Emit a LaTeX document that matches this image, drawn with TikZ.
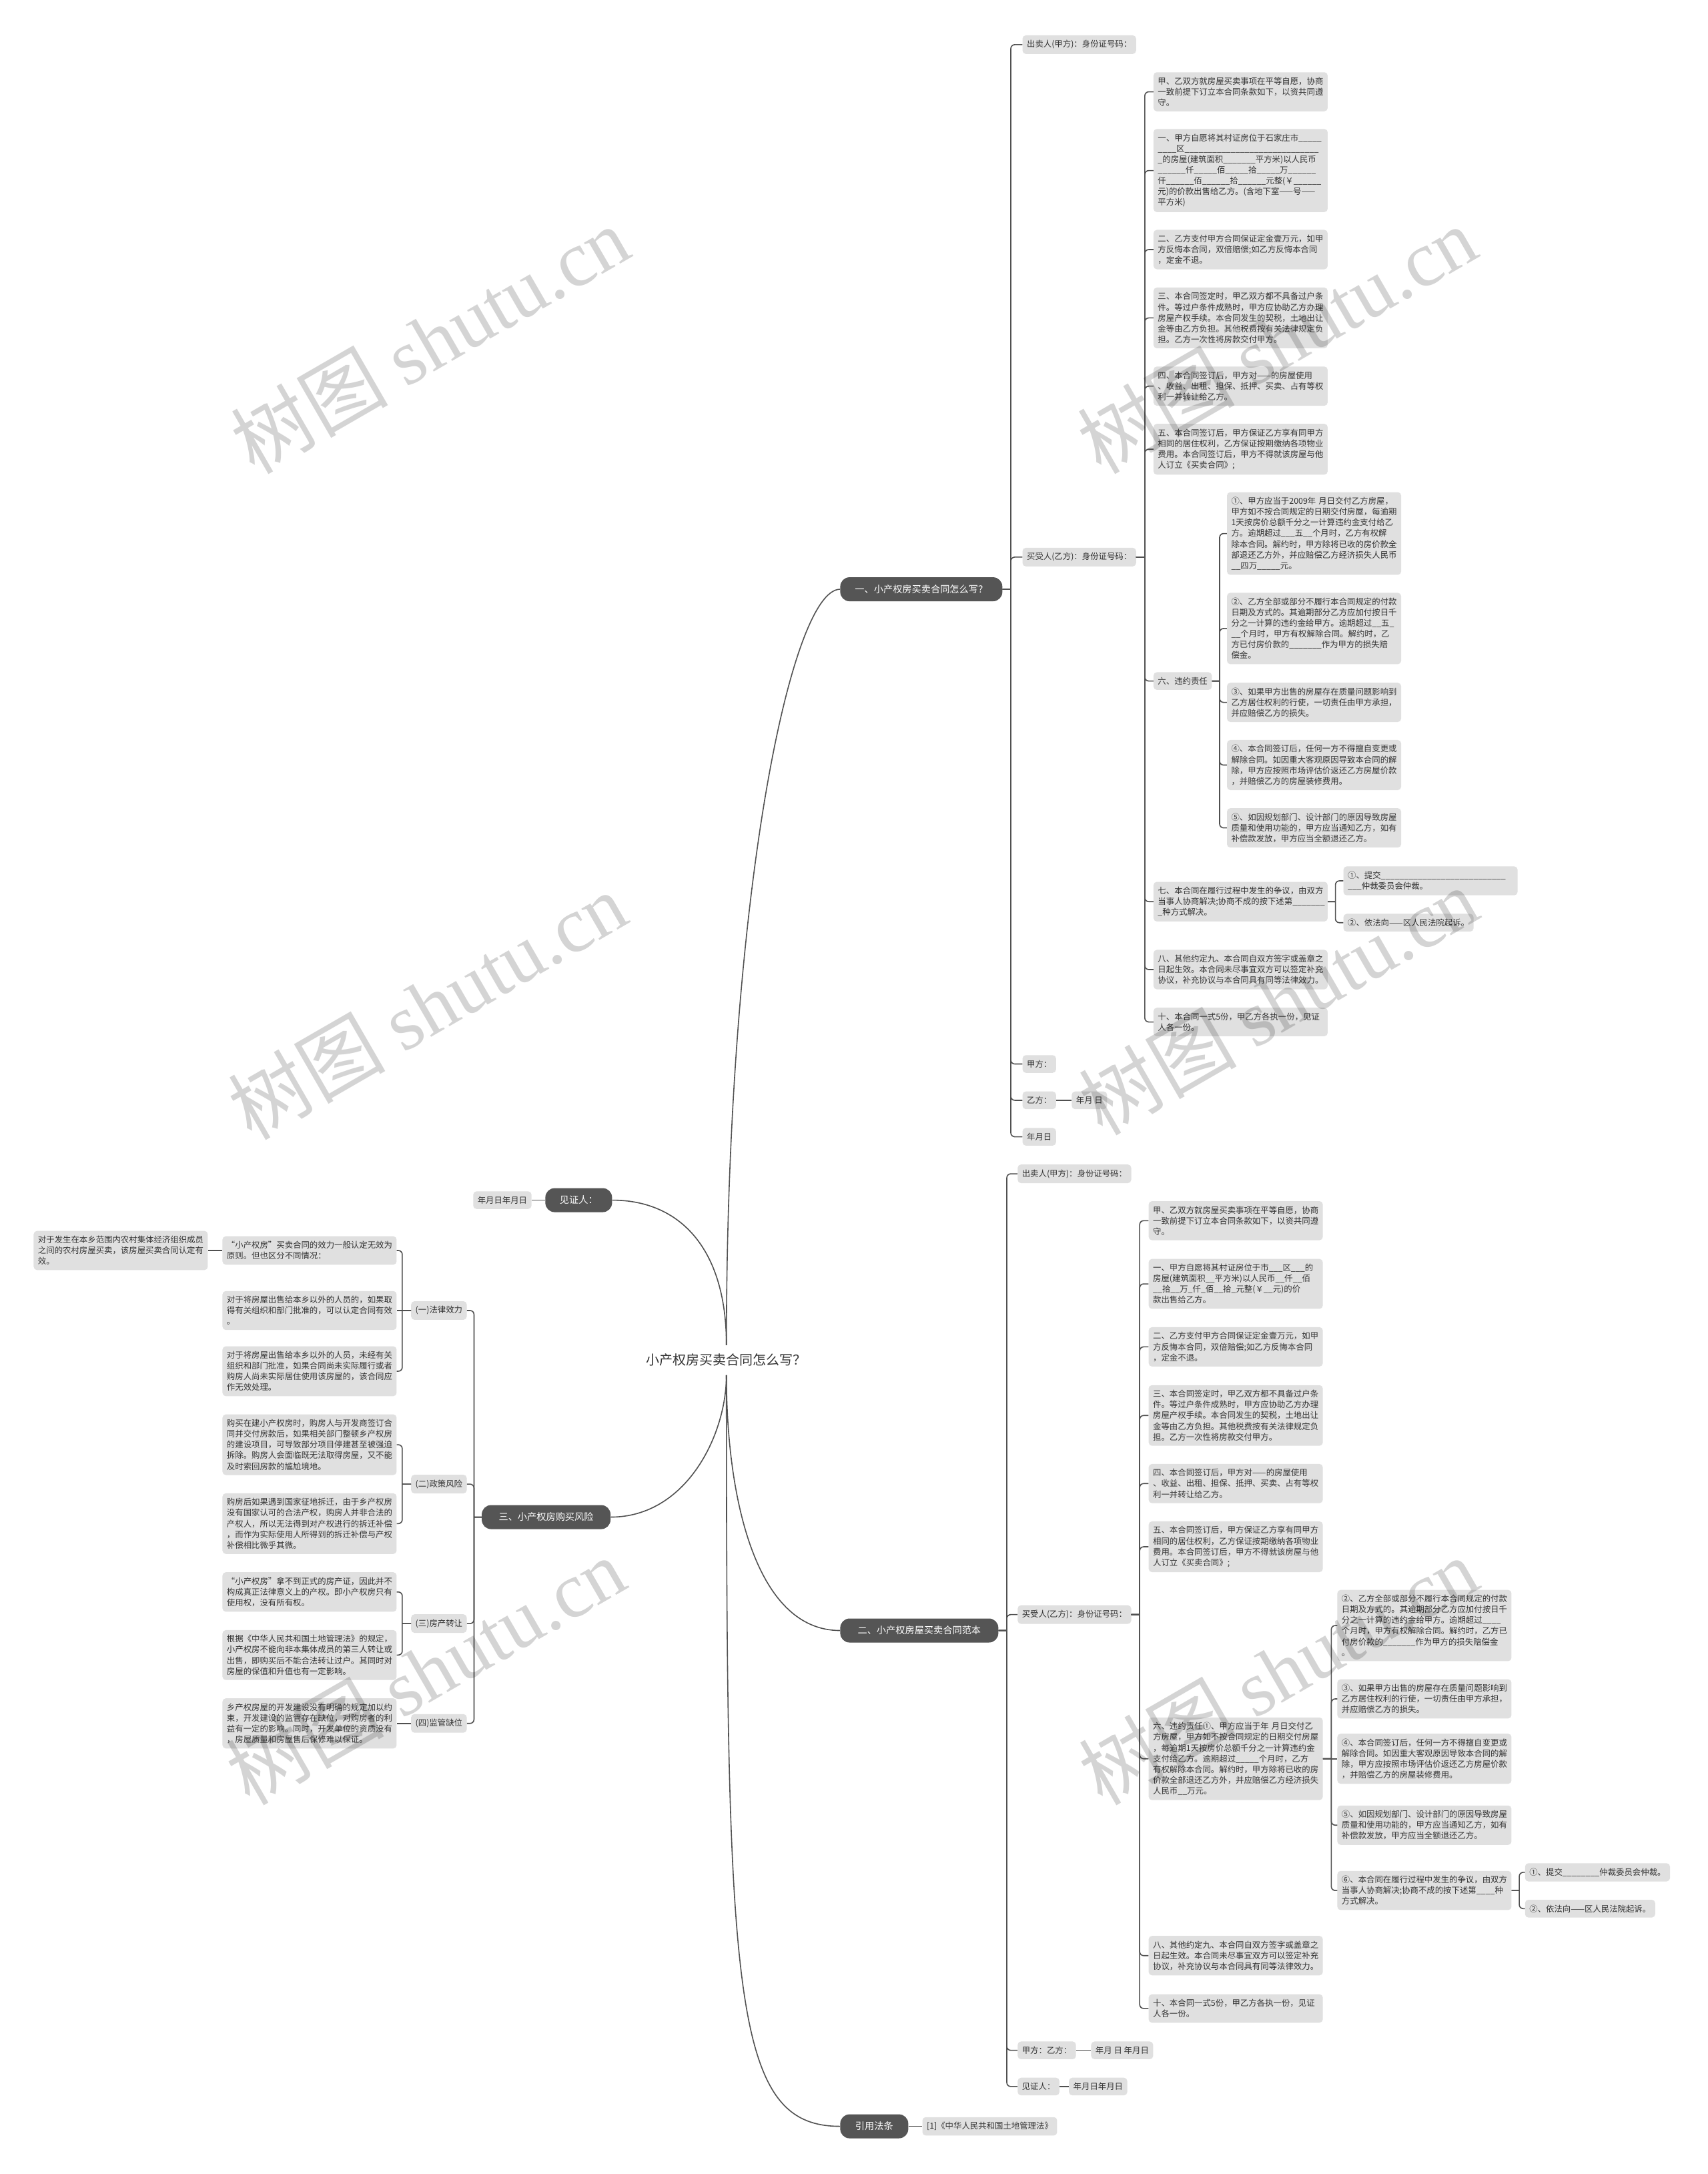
\documentclass[tikz,border=0pt]{standalone}
\usepackage{fontspec}
\setmainfont{Noto Sans CJK SC}
\newfontfamily\wmserif{Liberation Serif}
\setlength{\parindent}{0pt}
\definecolor{boxc}{HTML}{E0E0E0}
\definecolor{pillc}{HTML}{555555}
\definecolor{linec}{HTML}{505050}
\definecolor{txt}{HTML}{333333}
\newcommand\leaffont{\fontsize{12.4pt}{16.1pt}\selectfont}
\newcommand\pillfont{\fontsize{14.2pt}{17pt}\selectfont}
\newcommand\titlefont{\fontsize{20pt}{24pt}\selectfont}
\newcommand\wmfont{\fontsize{118pt}{118pt}\selectfont}
\newcommand\ufive{\_\_\_\_\_}
\begin{document}
\begin{tikzpicture}[x=2.0779pt,y=-2.0779pt,
  box/.style={fill=boxc, rounded corners=5pt, inner xsep=6.5pt, inner ysep=7.5pt, font=\leaffont, text=txt, align=left},
  para/.style={box, text width=248pt},
  pill/.style={fill=pillc, rounded corners=14pt, text=white, font=\pillfont, minimum height=36pt, inner xsep=4pt, align=center},
  con/.style={draw=linec, line width=1.6pt, rounded corners=6pt},
  br/.style={to path={(\tikztostart.east) -- ++(#1,0) ++(0,0) |- (\tikztotarget.west)}}, br/.default=6,
  bl/.style={to path={(\tikztostart.west) -- ++(-#1,0) ++(0,0) |- (\tikztotarget.east)}}, bl/.default=6,
  wm/.style={rotate=30, text=black, text opacity=0.17, font=\wmfont, inner sep=0pt}
]
\fill[white] (0,0) rectangle (1232,1568);
\useasboundingbox (0,0) rectangle (1232,1568);

% ---------- centre and main branches ----------
\node[font=\titlefont, text=txt, inner ysep=13pt] (C) at (524,981) {小产权房买卖合同怎么写？};
\node[pill, minimum width=243pt, anchor=west] (n1) at (606,425) {一、小产权房买卖合同怎么写？};
\node[pill, minimum width=237pt, anchor=west] (n2) at (606,1176) {二、小产权房屋买卖合同范本};
\node[pill, minimum width=193pt, anchor=east] (n3) at (440.5,1094.2) {三、小产权房购买风险};
\node[pill, minimum width=100pt, anchor=east] (n4) at (441.6,865.6) {见证人：};
\node[pill, minimum width=102pt, anchor=west] (n5) at (606,1533.6) {引用法条};

\draw[con] (C.north) .. controls (524,650) and (570,425) .. (n1.west);
\draw[con] (C.north) .. controls (524,900) and (490,865.6) .. (n4.east);
\draw[con] (C.south) .. controls (524,1035) and (495,1094.2) .. (n3.east);
\draw[con] (C.south) .. controls (524,1080) and (545,1176) .. (n2.west);
\draw[con] (C.south) .. controls (524,1440) and (528,1533.6) .. (n5.west);

% ---------- branch 一 ----------
\node[box, anchor=west] (A1) at (737.5,32.2) {出卖人(甲方)：身份证号码：};
\node[box, anchor=west] (A2) at (737.5,401.8) {买受人(乙方)：身份证号码：};
\node[box, anchor=west] (A3) at (737.5,767.4) {甲方：};
\node[box, anchor=west] (A4) at (737.5,793.6) {乙方：};
\node[box, anchor=west] (A4a) at (773,793.6) {年月~日};
\node[box, anchor=west] (A5) at (737.5,819.9) {年月日};

\node[para, anchor=west] (a1) at (832,66.2) {甲、乙双方就房屋买卖事项在平等自愿，协商\\一致前提下订立本合同条款如下，以资共同遵\\守。};
\node[para, anchor=west] (a2) at (832,123) {一、甲方自愿将其村证房位于石家庄市\ufive{}\\\_\_\_\_区\ufive{}\ufive{}\ufive{}\ufive{}\ufive{}\_\_\_\_\\\_的房屋(建筑面积\_\_\_\_\_\_\_平方米)以人民币\\\ufive{}\_仟\ufive{}佰\ufive{}拾\ufive{}万\ufive{}\_\\仟\ufive{}\_佰\ufive{}\_拾\ufive{}\_元整(￥\ufive{}\_\\元)的价款出售给乙方。(含地下室——号——\\平方米)};
\node[para, anchor=west] (a3) at (832,180) {二、乙方支付甲方合同保证定金壹万元，如甲\\方反悔本合同，双倍赔偿;如乙方反悔本合同\\，定金不退。};
\node[para, anchor=west] (a4) at (832,229.3) {三、本合同签定时，甲乙双方都不具备过户条\\件。等过户条件成熟时，甲方应协助乙方办理\\房屋产权手续。本合同发生的契税，土地出让\\金等由乙方负担。其他税费按有关法律规定负\\担。乙方一次性将房款交付甲方。};
\node[para, anchor=west] (a5) at (832,278.5) {四、本合同签订后，甲方对——的房屋使用\\、收益、出租、担保、抵押、买卖、占有等权\\利一并转让给乙方。};
\node[para, anchor=west] (a6) at (832,324) {五、本合同签订后，甲方保证乙方享有同甲方\\相同的居住权利，乙方保证按期缴纳各项物业\\费用。本合同签订后，甲方不得就该房屋与他\\人订立《买卖合同》;};
\node[box, anchor=west] (a7) at (832,491.2) {六、违约责任};
\node[para, anchor=west] (b1) at (885,384.8) {①、甲方应当于2009年~月日交付乙方房屋，\\甲方如不按合同规定的日期交付房屋，每逾期\\1天按房价总额千分之一计算违约金支付给乙\\方。逾期超过\_\_\_五\_\_个月时，乙方有权解\\除本合同。解约时，甲方除将已收的房价款全\\部退还乙方外，并应赔偿乙方经济损失人民币\\\_\_四万\_\_\_\_\_元。};
\node[para, anchor=west] (b2) at (885,453.3) {②、乙方全部或部分不履行本合同规定的付款\\日期及方式的。其逾期部分乙方应加付按日千\\分之一计算的违约金给甲方。逾期超过\_\_五\_\\\_\_个月时，甲方有权解除合同。解约时，乙\\方已付房价款的\_\_\_\_\_\_\_作为甲方的损失赔\\偿金。};
\node[para, anchor=west] (b3) at (885,506.6) {③、如果甲方出售的房屋存在质量问题影响到\\乙方居住权利的行使，一切责任由甲方承担，\\并应赔偿乙方的损失。};
\node[para, anchor=west] (b4) at (885,551.8) {④、本合同签订后，任何一方不得擅自变更或\\解除合同。如因重大客观原因导致本合同的解\\除，甲方应按照市场评估价返还乙方房屋价款\\，并赔偿乙方的房屋装修费用。};
\node[para, anchor=west] (b5) at (885,597.1) {⑤、如因规划部门、设计部门的原因导致房屋\\质量和使用功能的，甲方应当通知乙方，如有\\补偿款发放，甲方应当全额退还乙方。};
\node[para, anchor=west] (a8) at (832,650.3) {七、本合同在履行过程中发生的争议，由双方\\当事人协商解决;协商不成的按下述第\_\_\_\_\_\_\_\\\_种方式解决。};
\node[para, anchor=west] (c1) at (969,635.3) {①、提交\ufive{}\ufive{}\ufive{}\ufive{}\ufive{}\_\_\\\_\_\_仲裁委员会仲裁。};
\node[box, anchor=west] (c2) at (969,665.5) {②、依法向——区人民法院起诉。};
\node[para, anchor=west] (a9) at (832,699.3) {八、其他约定九、本合同自双方签字或盖章之\\日起生效。本合同未尽事宜双方可以签定补充\\协议，补充协议与本合同具有同等法律效力。};
\node[para, anchor=west] (a10) at (832,737.1) {十、本合同一式5份，甲乙方各执一份，见证\\人各一份。};

\draw[con] (n1) to[br] (A1);
\draw[con] (n1) to[br] (A2);
\draw[con] (n1) to[br] (A3);
\draw[con] (n1) to[br] (A4);
\draw[con] (n1) to[br] (A5);
\draw[con] (A4) -- (A4a);
\foreach \k in {a1,a2,a3,a4,a5,a6,a7,a8,a9,a10} \draw[con] (A2) to[br=6.2] (\k);
\foreach \k in {b1,b2,b3,b4,b5} \draw[con] (a7) to[br=5.5] (\k);
\foreach \k in {c1,c2} \draw[con] (a8) to[br=5.5] (\k);

% ---------- branch 二 ----------
\node[box, anchor=west] (B1) at (734,846.6) {出卖人(甲方)：身份证号码：};
\node[box, anchor=west] (B2) at (734,1164.5) {买受人(乙方)：身份证号码：};
\node[box, anchor=west] (B3) at (734,1478.8) {甲方：乙方：};
\node[box, anchor=west] (B3a) at (787,1478.8) {年月~日~年月日};
\node[box, anchor=west] (B4) at (734,1504.9) {见证人：};
\node[box, anchor=west] (B4a) at (771,1504.9) {年月日年月日};

\node[para, anchor=west] (d1) at (828.5,880.4) {甲、乙双方就房屋买卖事项在平等自愿，协商\\一致前提下订立本合同条款如下，以资共同遵\\守。};
\node[para, anchor=west] (d2) at (828.5,926) {一、甲方自愿将其村证房位于市\_\_\_区\_\_\_的\\房屋(建筑面积\_\_平方米)以人民币\_\_仟\_\_佰\\\_\_拾\_\_万\_仟\_佰\_\_拾\_元整(￥\_\_元)的价\\款出售给乙方。};
\node[para, anchor=west] (d3) at (828.5,971.4) {二、乙方支付甲方合同保证定金壹万元，如甲\\方反悔本合同，双倍赔偿;如乙方反悔本合同\\，定金不退。};
\node[para, anchor=west] (d4) at (828.5,1020.9) {三、本合同签定时，甲乙双方都不具备过户条\\件。等过户条件成熟时，甲方应协助乙方办理\\房屋产权手续。本合同发生的契税，土地出让\\金等由乙方负担。其他税费按有关法律规定负\\担。乙方一次性将房款交付甲方。};
\node[para, anchor=west] (d5) at (828.5,1070) {四、本合同签订后，甲方对——的房屋使用\\、收益、出租、担保、抵押、买卖、占有等权\\利一并转让给乙方。};
\node[para, anchor=west] (d6) at (828.5,1115.6) {五、本合同签订后，甲方保证乙方享有同甲方\\相同的居住权利，乙方保证按期缴纳各项物业\\费用。本合同签订后，甲方不得就该房屋与他\\人订立《买卖合同》;};
\node[para, anchor=west] (d7) at (828.5,1268.5) {六、违约责任①、甲方应当于年~月日交付乙\\方房屋，甲方如不按合同规定的日期交付房屋\\，每逾期1天按房价总额千分之一计算违约金\\支付给乙方。逾期超过\_\_\_\_\_个月时，乙方\\有权解除本合同。解约时，甲方除将已收的房\\价款全部退还乙方外，并应赔偿乙方经济损失\\人民币\_\_万元。};
\node[para, anchor=west] (e1) at (964.6,1172.4) {②、乙方全部或部分不履行本合同规定的付款\\日期及方式的。其逾期部分乙方应加付按日千\\分之一计算的违约金给甲方。逾期超过\_\_\_\_\\个月时，甲方有权解除合同。解约时，乙方已\\付房价款的\_\_\_\_\_\_\_作为甲方的损失赔偿金\\。};
\node[para, anchor=west] (e2) at (964.6,1225.3) {③、如果甲方出售的房屋存在质量问题影响到\\乙方居住权利的行使，一切责任由甲方承担，\\并应赔偿乙方的损失。};
\node[para, anchor=west] (e3) at (964.6,1268.5) {④、本合同签订后，任何一方不得擅自变更或\\解除合同。如因重大客观原因导致本合同的解\\除，甲方应按照市场评估价返还乙方房屋价款\\，并赔偿乙方的房屋装修费用。};
\node[para, anchor=west] (e4) at (964.6,1316.4) {⑤、如因规划部门、设计部门的原因导致房屋\\质量和使用功能的，甲方应当通知乙方，如有\\补偿款发放，甲方应当全额退还乙方。};
\node[para, anchor=west] (e5) at (964.6,1363.5) {⑥、本合同在履行过程中发生的争议，由双方\\当事人协商解决;协商不成的按下述第\_\_\_\_种\\方式解决。};
\node[box, anchor=west] (f1) at (1100,1350.4) {①、提交\_\_\_\_\_\_\_\_仲裁委员会仲裁。};
\node[box, anchor=west] (f2) at (1100,1376.6) {②、依法向——区人民法院起诉。};
\node[para, anchor=west] (d8) at (828.5,1410.5) {八、其他约定九、本合同自双方签字或盖章之\\日起生效。本合同未尽事宜双方可以签定补充\\协议，补充协议与本合同具有同等法律效力。};
\node[para, anchor=west] (d9) at (828.5,1448.6) {十、本合同一式5份，甲乙方各执一份，见证\\人各一份。};

\foreach \k in {B1,B2,B3,B4} \draw[con] (n2) to[br] (\k);
\draw[con] (B3) -- (B3a);
\draw[con] (B4) -- (B4a);
\foreach \k in {d1,d2,d3,d4,d5,d6,d7,d8,d9} \draw[con] (B2) to[br] (\k);
\foreach \k in {e1,e2,e4,e5} \draw[con] (d7) to[br] (\k);
\draw[con] (d7) -- (e3);
\foreach \k in {f1,f2} \draw[con] (e5) to[br=5.5] (\k);

% ---------- branch 三 ----------
\node[box, anchor=east] (g1) at (336.8,945.2) {(一)法律效力};
\node[box, anchor=east] (g2) at (336.8,1070.4) {(二)政策风险};
\node[box, anchor=east] (g3) at (336.8,1171) {(三)房产转让};
\node[box, anchor=east] (g4) at (336.8,1243) {(四)监管缺位};

\node[para, anchor=east] (h1) at (286.2,901.9) {“小产权房”买卖合同的效力一般认定无效为\\原则。但也区分不同情况：};
\node[para, anchor=east] (i1) at (150,901.9) {对于发生在本乡范围内农村集体经济组织成员\\之间的农村房屋买卖，该房屋买卖合同认定有\\效。};
\node[para, anchor=east] (h2) at (286.2,945.2) {对于将房屋出售给本乡以外的人员的，如果取\\得有关组织和部门批准的，可以认定合同有效\\。};
\node[para, anchor=east] (h3) at (286.2,989) {对于将房屋出售给本乡以外的人员，未经有关\\组织和部门批准，如果合同尚未实际履行或者\\购房人尚未实际居住使用该房屋的，该合同应\\作无效处理。};
\node[para, anchor=east] (h4) at (286.2,1042) {购买在建小产权房时，购房人与开发商签订合\\同并交付房款后，如果相关部门整顿乡产权房\\的建设项目，可导致部分项目停建甚至被强迫\\拆除。购房人会面临既无法取得房屋，又不能\\及时索回房款的尴尬境地。};
\node[para, anchor=east] (h5) at (286.2,1098.9) {购房后如果遇到国家征地拆迁，由于乡产权房\\没有国家认可的合法产权，购房人并非合法的\\产权人，所以无法得到对产权进行的拆迁补偿\\，而作为实际使用人所得到的拆迁补偿与产权\\补偿相比微乎其微。};
\node[para, anchor=east] (h6) at (286.2,1148.2) {“小产权房”拿不到正式的房产证，因此并不\\构成真正法律意义上的产权。即小产权房只有\\使用权，没有所有权。};
\node[para, anchor=east] (h7) at (286.2,1193.7) {根据《中华人民共和国土地管理法》的规定，\\小产权房不能向非本集体成员的第三人转让或\\出售，即购买后不能合法转让过户。其同时对\\房屋的保值和升值也有一定影响。};
\node[para, anchor=east] (h8) at (286.2,1243) {乡产权房屋的开发建设没有明确的规定加以约\\束，开发建设的监管存在缺位，对购房者的利\\益有一定的影响。同时，开发单位的资质没有\\，房屋质量和房屋售后保修难以保证。};

\foreach \k in {g1,g2,g3,g4} \draw[con] (n3) to[bl=5.5] (\k);
\draw[con] (g1) to[bl=6.3] (h1);
\draw[con] (g1) -- (h2);
\draw[con] (g1) to[bl=6.3] (h3);
\draw[con] (h1) -- (i1);
\draw[con] (g2) to[bl=6.3] (h4);
\draw[con] (g2) to[bl=6.3] (h5);
\draw[con] (g3) to[bl=6.3] (h6);
\draw[con] (g3) to[bl=6.3] (h7);
\draw[con] (g4) -- (h8);

% ---------- 见证人 and 引用法条 ----------
\node[box, anchor=east] (n4a) at (383.5,865.6) {年月日年月日};
\draw[con] (n4) -- (n4a);
\node[box, anchor=west] (n5a) at (665.3,1533.6) {[1]《中华人民共和国土地管理法》};
\draw[con] (n5) -- (n5a);

% ---------- watermarks ----------
\node[wm] (wm1) at (310,245) {树图 {\wmserif shutu.cn}};
\node[wm] (wm2) at (921,245) {树图 {\wmserif shutu.cn}};
\node[wm] (wm3) at (308,725) {树图 {\wmserif shutu.cn}};
\node[wm] (wm4) at (922,722) {树图 {\wmserif shutu.cn}};
\node[wm] (wm5) at (307,1205) {树图 {\wmserif shutu.cn}};
\node[wm] (wm6) at (922,1205) {树图 {\wmserif shutu.cn}};
\end{tikzpicture}
\end{document}
